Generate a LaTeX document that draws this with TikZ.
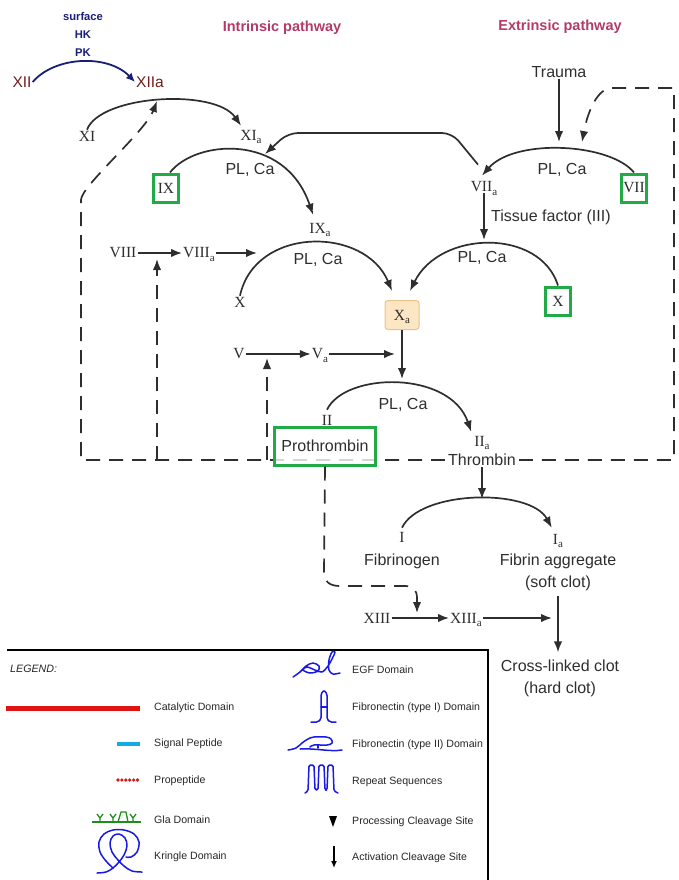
\documentclass[tikz,border=0pt]{standalone}
\usepackage{fontspec}
\setmainfont{Liberation Serif}
\setsansfont{Liberation Sans}
\usetikzlibrary{arrows.meta,shadows}
\pgfdeclarelayer{bg}
\pgfsetlayers{bg,main}
\definecolor{ink}{HTML}{2E2E2E}
\definecolor{titlec}{RGB}{178,58,104}
\definecolor{xiic}{RGB}{110,30,30}
\definecolor{navyc}{RGB}{25,30,120}
\definecolor{gboxc}{RGB}{34,170,70}
\definecolor{xafill}{RGB}{252,230,196}
\definecolor{xadraw}{RGB}{232,196,140}
\definecolor{legblue}{RGB}{25,25,230}
\definecolor{legred}{RGB}{222,20,20}
\definecolor{legcyan}{RGB}{20,170,230}
\definecolor{leggreen}{RGB}{30,140,30}
\newcommand\sa{\smash{\raisebox{-0.5ex}{\fontsize{11}{11}\selectfont a}}}
\begin{document}
\begin{tikzpicture}[x=1pt,y=-1pt,
  rom/.style={font=\fontsize{15.5}{15}\selectfont\rmfamily, text=ink, inner sep=1pt},
  lab/.style={font=\fontsize{16}{22}\selectfont\sffamily, text=ink, inner sep=1pt},
  ptitle/.style={font=\fontsize{14.5}{15}\selectfont\sffamily\bfseries, text=titlec},
  conn/.style={draw=ink, line width=1.7pt, -{Latex[length=11pt,width=8.5pt]}},
  dline/.style={draw=ink, line width=1.7pt, dash pattern=on 14pt off 9pt},
  dconn/.style={conn, dash pattern=on 14pt off 9pt},
  gbox/.style={rom, draw=gboxc, line width=3pt, fill=white, minimum width=25pt, minimum height=28pt, inner sep=1pt,
     drop shadow={shadow xshift=1.5pt, shadow yshift=-1.5pt, opacity=.35}},
  leg/.style={font=\fontsize{10.6}{12}\selectfont\sffamily, text=black!85, anchor=west, inner sep=0pt},
  legsym/.style={draw=legblue, line width=1.5pt, line join=round, line cap=round}]
\useasboundingbox (0,0) rectangle (678,880);

% titles
\node[ptitle] (tin) at (282,28) {Intrinsic pathway};
\node[ptitle] (tex) at (560,27) {Extrinsic pathway};

% XII activation
\node[font=\fontsize{11.2}{18}\selectfont\sffamily\bfseries, text=navyc, align=center, inner sep=0pt] (cof) at (83,34) {surface\\HK\\PK};
\node[font=\fontsize{15.5}{15}\selectfont\sffamily, text=xiic, inner sep=1pt] (XII) at (22,82) {XII};
\node[font=\fontsize{15.5}{15}\selectfont\sffamily, text=xiic, inner sep=1pt] (XIIa) at (150,82) {XIIa};

% intrinsic nodes
\node[rom] (XI) at (87,136) {XI};
\node[rom] (XIa) at (251,135) {XI\sa};
\node[gbox] (IX) at (166,188) {IX};
\node[lab] (pl1) at (250,170) {PL, Ca};
\node[rom] (IXa) at (320,228) {IX\sa};
\node[lab] (pl3) at (318,260) {PL, Ca};
\node[rom] (VIII) at (123,253) {VIII};
\node[rom] (VIIIa) at (199,253) {VIII\sa};
\node[rom] (Xi) at (240,302) {X};
\node[rom] (V) at (239,354) {V};
\node[rom] (Va) at (320,354) {V\sa};

% extrinsic nodes
\node[lab] (trauma) at (559,72) {Trauma};
\node[gbox] (VII) at (634,188) {VII};
\node[lab] (pl2) at (562,170) {PL, Ca};
\node[rom] (VIIa) at (484,187) {VII\sa};
\node[lab, anchor=west] (tf) at (490,217) {Tissue factor (III)};
\node[lab] (pl4) at (482,258) {PL, Ca};
\node[gbox] (Xe) at (558,301) {X};

% common pathway
\node[rom, draw=xadraw, fill=xafill, rounded corners=3pt, line width=1pt, minimum width=34pt, minimum height=29pt] (Xa) at (402,315) {X\sa};
\node[lab] (pl5) at (403,405) {PL, Ca};
\node[rom] (II) at (327,420) {II};
\node[rom] (IIa) at (482,441) {II\sa};
\node[lab, fill=white, inner xsep=3pt] (Thr) at (482,460) {Thrombin};
\node[rom] (I) at (402,537) {I};
\node[lab] (Fib) at (402,561) {Fibrinogen};
\node[rom] (Ia) at (558,539) {I\sa};
\node[lab, align=center] (Fa) at (558,572) {Fibrin aggregate\\(soft clot)};
\node[rom] (XIII) at (377,618) {XIII};
\node[rom] (XIIIa) at (466,618) {XIII\sa};
\node[lab, align=center] (CL) at (560,678) {Cross-linked clot\\(hard clot)};

% free ends
\coordinate (r1) at (157,101);
\coordinate (r2) at (265,154);
\coordinate (r3) at (559,142);
\coordinate (r4) at (582,142);
\coordinate (r5) at (484,240);
\coordinate (r6) at (410,291);
\coordinate (r7) at (392,291);
\coordinate (r8) at (257,253);
\coordinate (r9) at (395,354);
\coordinate (r10) at (402,379);
\coordinate (r12) at (482,499);
\coordinate (r13) at (552,618);
\coordinate (r14) at (417,613);
\coordinate (b1) at (157,460);
\coordinate (r15) at (157,259);
\coordinate (b2) at (267,460);
\coordinate (r16) at (267,358);

% dashed feedback loop (background)
\begin{pgfonlayer}{bg}
\draw[dconn] (Thr.west) -- (81,460) -- (81,200) .. controls (81,186) and (145,132) .. (r1);
\draw[dconn] (Thr.east) -- (674,460) -- (674,88) -- (612,88) .. controls (598,88) and (588,110) .. (r4);
\draw[dconn] (b1) -- (r15);
\draw[dconn] (b2) -- (r16);
\end{pgfonlayer}

\node[lab, draw=gboxc, line width=3pt, fill=white, fill opacity=0.8, text opacity=1, minimum width=101pt, minimum height=38pt, inner sep=2pt] (Pro) at (325,446) {Prothrombin};

% solid connectors
\draw[draw=navyc, line width=1.8pt, -{Latex[length=9pt,width=8pt]}] (XII.east) .. controls (55,56) and (108,54) .. (XIIa.west);
\draw[conn] (XI.north) .. controls (100,95) and (215,88) .. ([xshift=-10pt,yshift=3pt]XIa.north);
\draw[conn] ([xshift=4pt]IX.north) .. controls (195,140) and (285,132) .. ([xshift=-7pt,yshift=7pt]IXa.north);
\draw[conn, rounded corners=10pt] ([xshift=-6pt,yshift=16pt]VIIa.north) -- (452,133) -- (288,133) -- (r2);
\draw[conn] (trauma.south) -- (r3);
\draw[conn] (VII.north) .. controls (610,143) and (515,138) .. ([xshift=-2pt,yshift=5pt]VIIa.north);
\draw[conn] (VIIa.south) -- (r5);
\draw[conn] (Xe.north) .. controls (540,228) and (440,230) .. (r6);
\draw[conn] (Xi.north) .. controls (255,226) and (365,226) .. (r7);
\draw[conn] (VIII) -- (VIIIa);
\draw[conn] (VIIIa) -- (r8);
\draw[conn] (V) -- (Va);
\draw[conn] (Va) -- (r9);
\draw[conn] (Xa.south) -- (r10);
\draw[conn] ([yshift=4pt]II.north) .. controls (345,372) and (450,370) .. ([xshift=-2pt,yshift=3pt]IIa.north west);
\draw[conn] (Thr.south) -- (r12);
\draw[conn] ([yshift=3pt]I.north) .. controls (420,490) and (530,488) .. ([yshift=5pt]Ia.north west);
\draw[conn] (XIII) -- (XIIIa);
\draw[conn] (XIIIa) -- (r13);
\draw[conn, shorten <=4pt, shorten >=6pt] (Fa.south) -- (Fa.south |- CL.north);
\draw[dconn] (Pro.south) -- (324,572) .. controls (324,582) and (330,586) .. (340,586) -- (405,586) .. controls (413,586) and (417,590) .. (417,598) -- (r14);

% legend frame
\draw[black, line width=2pt] (7,650) -- (488,650) -- (488,881);
\node[font=\fontsize{10.7}{12}\selectfont\sffamily\itshape, text=black!85, anchor=west, inner sep=0pt] (lg) at (10,669) {LEGEND:};

% left legend column
\draw[legred, line width=5pt] (6,708) -- (140,708);
\node[leg] (t1) at (154,708) {Catalytic Domain};
\draw[legcyan, line width=4pt] (117,744) -- (140,744);
\node[leg] (t2) at (154,744) {Signal Peptide};
\draw[legred, line width=3.6pt, line cap=round, dash pattern=on 0pt off 3.9pt] (118,780) -- (140,780);
\node[leg] (t3) at (154,781) {Propeptide};
\begin{scope}[draw=leggreen, line width=1.3pt]
\draw (92,822) -- (141,822);
\foreach \xx in {100,113,133} \draw (\xx,822) -- (\xx,818) -- (\xx-3,814) (\xx,818) -- (\xx+3,814);
\draw[line join=round] (118,822) -- (121,812) -- (126,812) -- (128,822);
\end{scope}
\node[leg] (t4) at (154,820) {Gla Domain};
\draw[legsym] plot[smooth, tension=0.6] coordinates {(97,873) (106,872) (113,868) (119,862) (124,855) (127,846) (125,838) (119,834) (113,836) (110,843) (112,852) (118,860) (124,866) (132,871) (142,872)};
\draw[legsym] plot[smooth, tension=0.6] coordinates {(113,868) (106,861) (100,852) (99,842) (104,834) (113,830) (124,830) (134,834) (139,842) (137,852) (131,857) (126,857)};
\node[leg] (t5) at (154,857) {Kringle Domain};

% right legend column
\draw[legsym] plot[smooth, tension=0.55] coordinates {(293,677) (300,672) (306,666) (313,663) (319,666) (318,671) (310,673) (303,670) (307,667) (315,670) (322,672) (328,666) (333,657) (335,652) (332,652) (329,660) (329,670) (333,674) (340,673)};
\node[leg] (t6) at (352,670) {EGF Domain};
\draw[legsym, rounded corners=1.5pt] (311,722) -- (318,722) -- (321,719) -- (321,694) -- (324,690) -- (327,694) -- (327,719) -- (330,722) -- (336,722);
\draw[legsym] (321,707) -- (327,707);
\node[leg] (t7) at (352,708) {Fibronectin (type I) Domain};
\draw[legsym] plot[smooth, tension=0.6] coordinates {(288,750) (296,748) (302,743) (308,739) (314,737) (326,737) (331,739) (332,743) (327,745) (314,745) (310,747)};
\draw[legsym] (300,749) .. controls (315,748) and (330,752) .. (342,750);
\draw[legsym] (318,745) -- (318,748);
\node[leg] (t8) at (352,745) {Fibronectin (type II) Domain};
\draw[legsym, rounded corners=1.5pt] (305,793) -- (308,791) -- (309,765) -- (314,765) -- (315,790) -- (318,790) -- (319,765) -- (324,765) -- (325,790) -- (327,790) -- (328,765) -- (333,765) -- (334,791) -- (338,793);
\node[leg] (t9) at (352,782) {Repeat Sequences};
\fill[black] (329,816) -- (337,816) -- (333,827) -- cycle;
\node[leg] (t10) at (352,822) {Processing Cleavage Site};
\draw[black, line width=1.4pt, -{Latex[length=7pt,width=6pt]}] (334,846) -- (334,868);
\node[leg] (t11) at (352,858) {Activation Cleavage Site};
\end{tikzpicture}
\end{document}
